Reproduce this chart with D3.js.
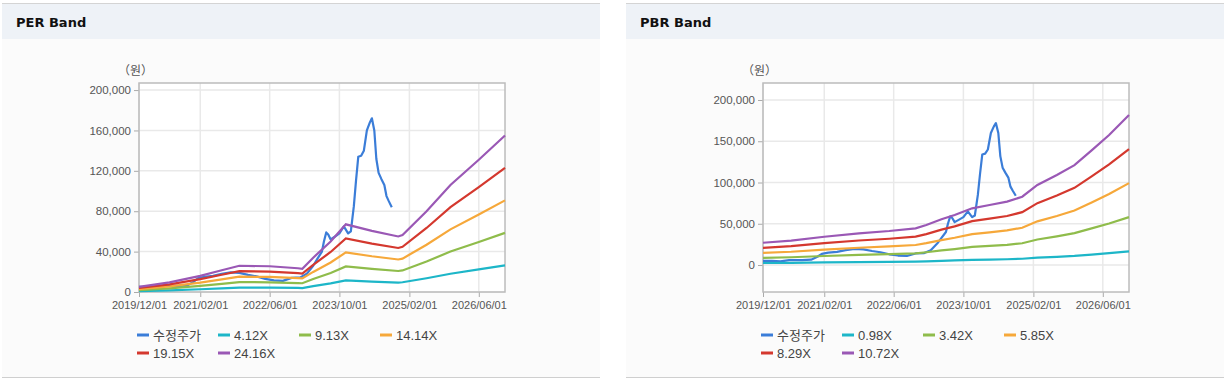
<html lang="ko">
<head>
<meta charset="UTF-8">
<title>PER / PBR Band</title>
<script src="https://d3js.org/d3.v7.min.js"></script>
<style>
  body { margin: 0; background: #fff; }
  svg { display: block; }
  .tick text { font-family: "Liberation Sans", Arial, sans-serif; fill: #555; }
</style>
</head>
<body>
<svg width="1228" height="388"></svg>
<script>
// ---- data ----
var xTickLabels = ["2019/12/01", "2021/02/01", "2022/06/01", "2023/10/01", "2025/02/01", "2026/06/01"];

// 수정주가 (adjusted price), shared by both charts
var priceDates = ["2019/12/01","2020/02/01","2020/04/01","2020/06/01","2020/09/01","2020/11/01","2020/12/15",
  "2021/01/15","2021/03/01","2021/05/01","2021/07/01","2021/09/01","2021/11/01","2022/01/01","2022/03/01",
  "2022/05/01","2022/07/01","2022/09/01","2022/11/01","2023/01/01","2023/02/15","2023/04/01","2023/05/01",
  "2023/06/01","2023/06/15","2023/07/01","2023/07/15","2023/08/01","2023/09/01","2023/10/01","2023/11/01",
  "2023/12/01","2023/12/20","2024/01/10","2024/01/25","2024/02/10","2024/03/01","2024/03/20","2024/04/10",
  "2024/05/01","2024/05/15","2024/06/01","2024/06/15","2024/07/01","2024/07/20","2024/08/10","2024/08/25",
  "2024/09/10","2024/10/01"];
var priceValues = [5000,5000,4500,6000,6000,6500,10000,13500,15000,16000,18000,19500,19000,17000,15500,
  13000,11500,11000,14000,14500,18000,26000,33000,40000,50000,59000,57000,52000,55000,58000,65000,
  58000,60000,85000,110000,134000,135000,140000,160000,168000,172000,160000,132000,118000,112000,106000,95000,
  90000,84000];

// PER band
var perDates = ["2019/12/01","2020/07/01","2021/02/01","2021/07/01","2021/11/01","2022/06/01","2022/12/15",
  "2023/01/15","2023/04/01","2023/08/01","2023/11/15","2024/05/15","2024/11/15","2024/12/15","2025/06/01",
  "2025/11/15","2026/06/01","2026/12/01"];
var per412 = [850,1640,2730,3670,4430,4350,4010,3920,5800,8530,11430,10320,9380,9640,13640,18070,22340,26430];
var per913 = [1890,3630,6040,8130,9820,9630,8880,8690,12850,18900,25320,22860,20780,21360,30230,40050,49500,58580];
var per1414 = [2930,5610,9360,12590,15210,14920,13760,13460,19900,29270,39210,35410,32180,33070,46820,62030,76670,90720];
var per1915 = [3960,7600,12680,17040,20610,20200,18630,18230,26940,39640,53100,47950,43590,44790,63410,84010,103830,122870];
var per2416 = [5000,9600,16000,21500,26000,25500,23500,23000,34000,50000,67000,60500,55000,56500,80000,106000,131000,155000];
var perYTicks = [0, 40000, 80000, 120000, 160000, 200000];

// PBR band
var pbrDates = ["2019/12/01","2020/06/15","2021/02/01","2021/10/01","2022/05/01","2022/11/01","2023/01/15",
  "2023/05/01","2023/08/01","2023/12/01","2024/04/01","2024/08/01","2024/11/15","2025/03/01","2025/07/15",
  "2025/11/15","2026/03/15","2026/07/15","2026/12/01"];
var pbr098 = [2470,2700,3140,3510,3770,4060,4430,5060,5540,6280,6650,7020,7570,8870,9960,11060,12710,14410,16620];
var pbr342 = [8620,9410,10940,12250,13140,14170,15470,17670,19330,21920,23190,24500,26420,30950,34770,38600,44340,50280,58000];
var pbr585 = [14740,16100,18720,20950,22480,24230,26470,30230,33070,37490,39670,41910,45190,52940,59480,66030,75850,86000,99210];
var pbr829 = [20880,22810,26530,29700,31860,34340,37500,42840,46860,53130,56220,59390,64030,75020,84290,93570,107490,121870,140590];
var pbr1072 = [27000,29500,34300,38400,41200,44400,48500,55400,60600,68700,72700,76800,82800,97000,109000,121000,139000,157600,181800];
var pbrYTicks = [0, 50000, 100000, 150000, 200000];

var colors = ["#3b7dd8", "#1db6c8", "#8fbc4b", "#f6a83a", "#d4382e", "#9a58b5"];
// ---------------

var parse = d3.timeParse("%Y/%m/%d");
var svg = d3.select("svg");

function drawPanel(px, left, title, bandDates, bands, names, yDomain, yTicks) {
    var panel = svg.append("g").attr("transform", "translate(" + px + ",0)");
    var pw = 598;

    // panel box + header
    panel.append("rect").attr("x", 0).attr("y", 39).attr("width", pw).attr("height", 338).attr("fill", "#fbfbfb");
    panel.append("rect").attr("x", 0).attr("y", 4).attr("width", pw).attr("height", 35).attr("fill", "#eef2f7");
    panel.append("line").attr("x1", 0).attr("x2", pw).attr("y1", 3.5).attr("y2", 3.5).attr("stroke", "#d4d4d4");
    panel.append("line").attr("x1", 0).attr("x2", pw).attr("y1", 377.5).attr("y2", 377.5).attr("stroke", "#cfcfcf");
    panel.append("text").attr("x", 14).attr("y", 27)
        .style("font-family", "'DejaVu Sans', sans-serif").style("font-weight", "bold").style("font-size", "13px")
        .attr("fill", "#111").text(title);

    var right = left + 366, top = 83, bottom = 292;
    var g = panel.append("g");

    var x = d3.scaleTime().domain([parse("2019/12/01"), parse("2026/12/01")]).range([left, right]);
    var y = d3.scaleLinear().domain(yDomain).range([bottom, top]);
    var xTicks = xTickLabels.map(parse);

    g.append("rect").attr("x", left).attr("y", top).attr("width", right - left).attr("height", bottom - top)
        .attr("fill", "#fff");

    // grid
    g.append("g").selectAll("line").data(yTicks).enter().append("line")
        .attr("x1", left).attr("x2", right).attr("y1", function (d) { return y(d); }).attr("y2", function (d) { return y(d); })
        .attr("stroke", "#e9e9e9").attr("stroke-width", 1.5);
    g.append("g").selectAll("line").data(xTicks).enter().append("line")
        .attr("y1", top).attr("y2", bottom).attr("x1", function (d) { return x(d); }).attr("x2", function (d) { return x(d); })
        .attr("stroke", "#e9e9e9").attr("stroke-width", 1.5);

    // axes
    var yAxis = g.append("g").attr("transform", "translate(" + left + ",0)")
        .call(d3.axisLeft(y).tickValues(yTicks).tickSize(5).tickPadding(3).tickFormat(d3.format(",")));
    yAxis.selectAll("text").style("font-size", "11.5px");
    var xAxis = g.append("g").attr("transform", "translate(0," + bottom + ")")
        .call(d3.axisBottom(x).tickValues(xTicks).tickSize(5).tickPadding(4).tickFormat(d3.timeFormat("%Y/%m/%d")));
    xAxis.selectAll("text").style("font-size", "11px");
    g.selectAll(".domain").remove();
    g.selectAll(".tick line").attr("stroke", "#aaa");

    g.append("rect").attr("x", left).attr("y", top).attr("width", right - left).attr("height", bottom - top)
        .attr("fill", "none").attr("stroke", "#bcbcbc").attr("stroke-width", 1.5);

    g.append("text").attr("x", left - 21).attr("y", 75)
        .style("font-family", "'Noto Sans CJK KR', sans-serif").style("font-size", "12px")
        .attr("fill", "#555").text("（원）");

    var line = d3.line().x(function (d) { return x(d[0]); }).y(function (d) { return y(d[1]); });

    // price first, bands drawn over it
    var pricePts = priceDates.map(function (d, j) { return [parse(d), priceValues[j]]; });
    g.append("path").datum(pricePts).attr("d", line).attr("fill", "none")
        .attr("stroke", colors[0]).attr("stroke-width", 2.2).attr("stroke-linejoin", "round");
    bands.forEach(function (vals, i) {
        var pts = bandDates.map(function (d, j) { return [parse(d), vals[j]]; });
        g.append("path").datum(pts).attr("d", line).attr("fill", "none")
            .attr("stroke", colors[i + 1]).attr("stroke-width", 2.2);
    });

    // legend
    var items = ["수정주가"].concat(names);
    var lg = g.append("g");
    items.forEach(function (name, i) {
        var lx = left - 2 + (i % 4) * 81;
        var ly = 340 + Math.floor(i / 4) * 18;
        lg.append("line").attr("x1", lx).attr("x2", lx + 12).attr("y1", ly - 5).attr("y2", ly - 5)
            .attr("stroke", colors[i]).attr("stroke-width", 3);
        lg.append("text").attr("x", lx + 16).attr("y", ly)
            .style("font-family", i === 0 ? "'Noto Sans CJK KR', sans-serif" : "'Liberation Sans', Arial, sans-serif")
            .style("font-size", "13px").attr("fill", "#444").text(name);
    });
}

drawPanel(2, 137, "PER Band", perDates, [per412, per913, per1414, per1915, per2416],
    ["4.12X", "9.13X", "14.14X", "19.15X", "24.16X"], [0, 207000], perYTicks);
drawPanel(626, 137, "PBR Band", pbrDates, [pbr098, pbr342, pbr585, pbr829, pbr1072],
    ["0.98X", "3.42X", "5.85X", "8.29X", "10.72X"], [-32700, 220600], pbrYTicks);
</script>
</body>
</html>
